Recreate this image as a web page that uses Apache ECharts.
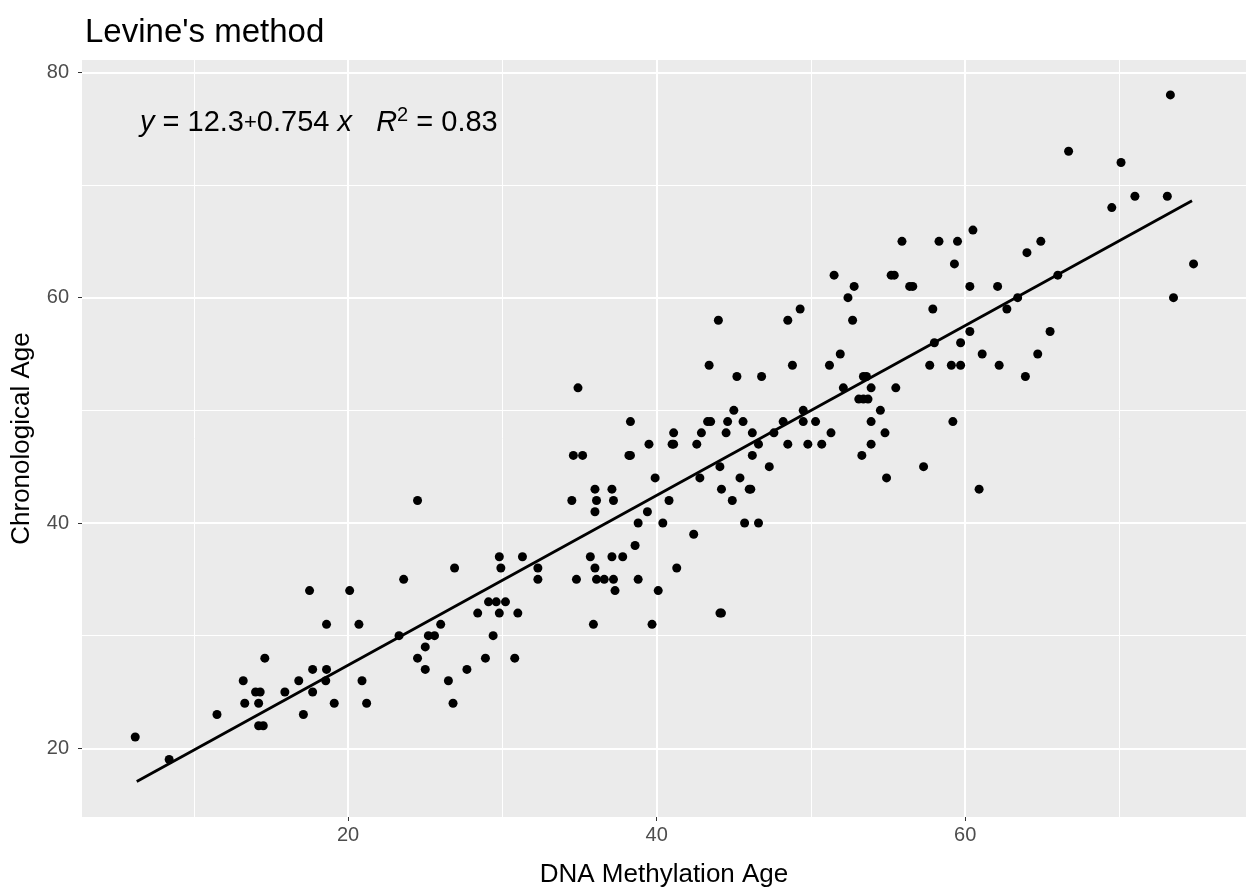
<!DOCTYPE html>
<html>
<head>
<meta charset="utf-8">
<script src="https://cdn.jsdelivr.net/npm/echarts@6/dist/echarts.min.js"></script>
<style>
html,body{margin:0;padding:0;background:#fff;}
#chart{width:1258px;height:895px;}
</style>
</head>
<body>
<div id="chart"></div>
<script>
// DNA methylation age (x) and chronological age (y)
const methAge = [6.2,8.4,11.5,13.2,13.3,14.0,14.3,14.2,14.2,14.5,14.6,15.9,16.8,17.1,17.5,17.7,17.7,18.6,18.6,18.55,19.1,20.1,20.7,20.9,21.2,
23.3,23.6,24.5,24.5,25.0,25.0,25.2,25.6,26.0,26.5,26.9,26.8,27.7,28.4,28.9,29.1,29.4,29.6,29.8,29.8,29.9,30.2,30.8,31.0,31.3,32.3,32.3,
34.5,34.6,34.8,34.9,35.2,35.7,35.9,36.0,36.0,36.0,36.1,36.1,36.6,37.2,37.1,37.2,37.1,37.3,37.8,38.2,38.3,38.3,38.6,38.8,38.8,39.4,39.5,39.7,39.9,
40.1,40.4,40.8,41.0,41.1,41.1,41.3,42.4,42.6,42.8,42.9,43.3,43.5,43.4,44.0,44.1,44.2,44.1,44.2,44.5,44.6,44.9,45.0,45.2,45.4,45.6,45.7,46.0,46.1,46.2,46.2,46.6,46.6,46.8,47.3,47.6,
48.2,48.5,48.5,48.8,49.3,49.5,49.5,49.8,50.3,50.7,51.2,51.3,51.5,51.9,52.1,52.4,52.7,52.8,53.1,53.4,53.7,53.3,53.4,53.6,53.9,53.9,53.9,54.5,54.8,54.9,
55.2,55.4,55.5,55.9,56.4,56.6,57.3,57.7,57.9,58.0,58.3,59.1,59.2,59.3,59.5,59.7,59.7,60.3,60.3,60.5,60.9,61.1,62.1,62.2,62.7,63.4,63.9,64.0,64.7,64.9,65.5,66.0,66.7,
69.5,70.1,71.0,73.1,73.3,73.5,74.8];
const chronAge = [21,19,23,26,24,25,25,24,22,22,28,25,26,23,34,27,25,31,27,26,24,34,31,26,24,
30,35,42,28,29,27,30,30,31,26,36,24,27,32,28,33,30,33,37,32,36,33,28,32,37,36,35,
42,46,35,52,46,37,31,36,41,43,42,35,35,35,43,42,37,34,37,46,46,49,38,35,40,41,47,31,44,
34,40,42,47,47,48,36,39,47,44,48,49,49,54,58,32,32,45,43,48,49,42,50,53,44,49,40,43,43,48,46,40,47,53,45,48,
49,47,58,54,59,50,49,47,49,47,54,48,62,55,52,60,58,61,51,51,51,46,53,53,52,49,47,50,48,44,
62,62,52,65,61,61,45,54,59,56,65,54,49,63,65,54,56,61,57,66,43,55,61,54,59,60,53,64,55,65,57,62,73,
68,72,69,69,78,60,63];
// fitted line end points
const fitX = [6.3, 74.7];
const fitY = [17.05, 68.6];
// axis breaks
const xMajor = [20, 40, 60];
const xMinor = [10, 30, 50, 70];
const yMajor = [20, 40, 60, 80];
const yMinor = [30, 50, 70];

const points = methAge.map((v, i) => [v, chronAge[i]]);
const fitLine = fitX.map((v, i) => [v, fitY[i]]);

const FONT = 'Liberation Sans, Arial, sans-serif';
const gridLines = [];
xMinor.forEach(v => gridLines.push({xAxis: v, lineStyle: {color: '#fff', width: 1, type: 'solid'}}));
yMinor.forEach(v => gridLines.push({yAxis: v, lineStyle: {color: '#fff', width: 1, type: 'solid'}}));
xMajor.forEach(v => gridLines.push({xAxis: v, lineStyle: {color: '#fff', width: 2, type: 'solid'}}));
yMajor.forEach(v => gridLines.push({yAxis: v, lineStyle: {color: '#fff', width: 2, type: 'solid'}}));

const chart = echarts.init(document.getElementById('chart'), null, {renderer: 'canvas'});
chart.setOption({
  animation: false,
  backgroundColor: '#ffffff',
  textStyle: {fontFamily: FONT},
  title: {
    text: "Levine's method",
    left: 80, top: 11,
    textStyle: {fontFamily: FONT, fontSize: 33, fontWeight: 'normal', color: '#000'}
  },
  grid: {
    left: 82, right: 12, top: 60, bottom: 78,
    show: true, backgroundColor: '#EBEBEB', borderWidth: 0
  },
  xAxis: {
    type: 'value', min: 2.75, max: 78.2,
    name: 'DNA Methylation Age', nameLocation: 'middle', nameGap: 45,
    nameTextStyle: {fontFamily: FONT, fontSize: 26, color: '#000'},
    axisLine: {show: false},
    axisTick: {show: true, length: 4, lineStyle: {color: '#333', width: 1}, customValues: xMajor},
    axisLabel: {color: '#4D4D4D', fontSize: 20, margin: 8, fontFamily: FONT, customValues: xMajor},
    splitLine: {show: false}
  },
  yAxis: {
    type: 'value', min: 13.9, max: 81.1,
    name: 'Chronological Age', nameLocation: 'middle', nameGap: 47, nameRotate: 90,
    nameTextStyle: {fontFamily: FONT, fontSize: 26, color: '#000'},
    axisLine: {show: false},
    axisTick: {show: true, length: 4, lineStyle: {color: '#333', width: 1}, customValues: yMajor},
    axisLabel: {color: '#4D4D4D', fontSize: 20, margin: 13, fontFamily: FONT, customValues: yMajor},
    splitLine: {show: false}
  },
  graphic: [{
    type: 'text', left: 140, top: 105, z: 10,
    style: {
      text: '{i|y} = 12.3{p|+}0.754 {i|x}   {i|R}{s|2} = 0.83',
      fontFamily: FONT, fontSize: 29, fill: '#000', lineHeight: 35,
      rich: {
        i: {fontStyle: 'italic', fontSize: 29, fontFamily: FONT, lineHeight: 35},
        p: {fontSize: 22, fontFamily: FONT, lineHeight: 35},
        s: {fontSize: 20, fontFamily: FONT, verticalAlign: 'top', lineHeight: 20}
      }
    }
  }],
  series: [
    {
      type: 'scatter', data: [], silent: true, z: 1,
      markLine: {silent: true, z: 1, symbol: ['none', 'none'], label: {show: false}, animation: false, data: gridLines}
    },
    {
      type: 'line', data: fitLine, showSymbol: false, z: 3, silent: true,
      lineStyle: {color: '#000', width: 2.8}
    },
    {
      type: 'scatter', data: points, symbolSize: 9, z: 4,
      itemStyle: {color: '#000', opacity: 1}
    }
  ]
});
</script>
</body>
</html>
